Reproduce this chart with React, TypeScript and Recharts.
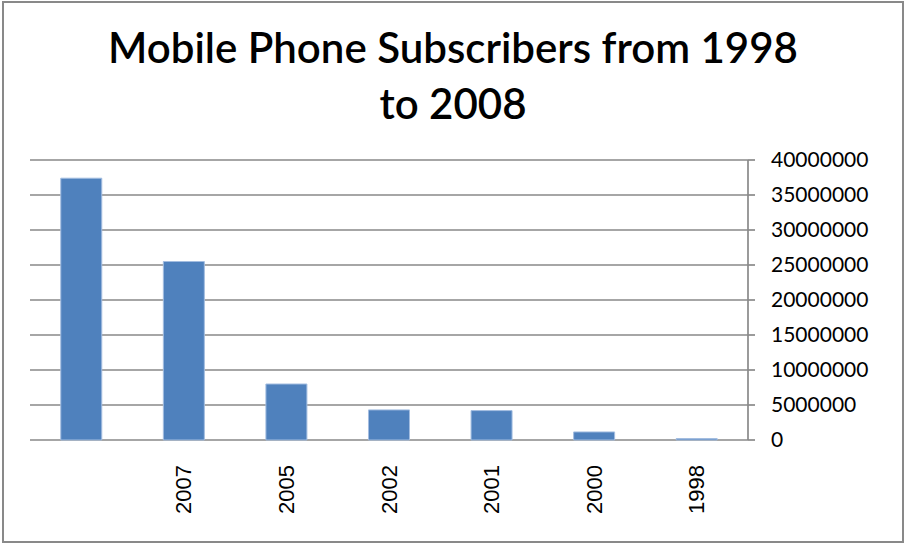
import React from "react";
import {Bar, BarChart, CartesianGrid, XAxis, YAxis} from "recharts";

const years = ["", "2007", "2005", "2002", "2001", "2000", "1998"];
const subscribers = [37400000, 25500000, 8000000, 4300000, 4200000, 1150000, 200000];
const valueTicks = [0, 5000000, 10000000, 15000000, 20000000, 25000000, 30000000, 35000000, 40000000];
const boundaryTicks = [0, 1, 2, 3, 4, 5, 6, 7];

const data = years.map((year, i) => ({year, value: subscribers[i]}));

const axisGray = "#898989";

const YearTick = (props: any) => {
    const {x, y, payload} = props;
    return (
        <text
            x={x}
            y={y}
            transform={`rotate(-90, ${x}, ${y})`}
            textAnchor="end"
            dominantBaseline="central"
            fontFamily="'Liberation Sans', Arial, sans-serif"
            fontSize={22}
            fill="#000"
        >
            {payload.value}
        </text>
    );
};

const App: React.FC = () => {
    return (
        <div style={{position: "absolute", left: 0, top: 0, width: 906, height: 544, background: "#fff"}}>
            <div
                style={{
                    position: "absolute",
                    left: 2,
                    top: 1,
                    width: 902,
                    height: 542,
                    border: `2px solid ${axisGray}`,
                    boxSizing: "border-box",
                }}
            />
            <div
                style={{
                    position: "absolute",
                    left: 0,
                    top: 19,
                    width: 906,
                    textAlign: "center",
                    fontFamily: "Lato, 'Open Sans', sans-serif",
                    fontWeight: 600,
                    fontSize: 42,
                    lineHeight: "56px",
                    color: "#000",
                }}
            >
                Mobile Phone Subscribers from 1998
                <br/>
                to 2008
            </div>
            <div style={{position: "absolute", left: 0, top: 0}}>
                <BarChart
                    width={906}
                    height={544}
                    data={data}
                    margin={{top: 160, right: 8, bottom: 6, left: 30}}
                    barCategoryGap="30%"
                >
                    <CartesianGrid horizontal vertical={false} stroke={axisGray} strokeWidth={1.7}
                                   yAxisId="val" xAxisId="cat"/>
                    <XAxis
                        xAxisId="cat"
                        dataKey="year"
                        height={98}
                        tickLine={false}
                        axisLine={false}
                        interval={0}
                        tickSize={0}
                        tickMargin={25}
                        tick={<YearTick/>}
                    />
                    <XAxis
                        xAxisId="edge"
                        type="number"
                        domain={[0, 7]}
                        ticks={boundaryTicks}
                        height={0}
                        tickSize={7}
                        stroke={axisGray}
                        axisLine={{stroke: axisGray, strokeWidth: 1.7}}
                        tickLine={{stroke: axisGray, strokeWidth: 1.7}}
                        tick={() => <g/>}
                    />
                    <YAxis
                        yAxisId="val"
                        orientation="right"
                        width={150}
                        domain={[0, 40000000]}
                        ticks={valueTicks}
                        interval={0}
                        tickSize={7}
                        tickMargin={16}
                        axisLine={{stroke: axisGray, strokeWidth: 1.7}}
                        tickLine={{stroke: axisGray, strokeWidth: 1.7}}
                        tick={{fill: "#000", fontSize: 21, fontFamily: "Lato, 'Open Sans', sans-serif"}}
                    />
                    <Bar
                        xAxisId="cat"
                        yAxisId="val"
                        dataKey="value"
                        fill="#4f81bd"
                        stroke="#a3bde0"
                        strokeWidth={1}
                        isAnimationActive={false}
                    />
                </BarChart>
            </div>
        </div>
    );
};

export default App;
